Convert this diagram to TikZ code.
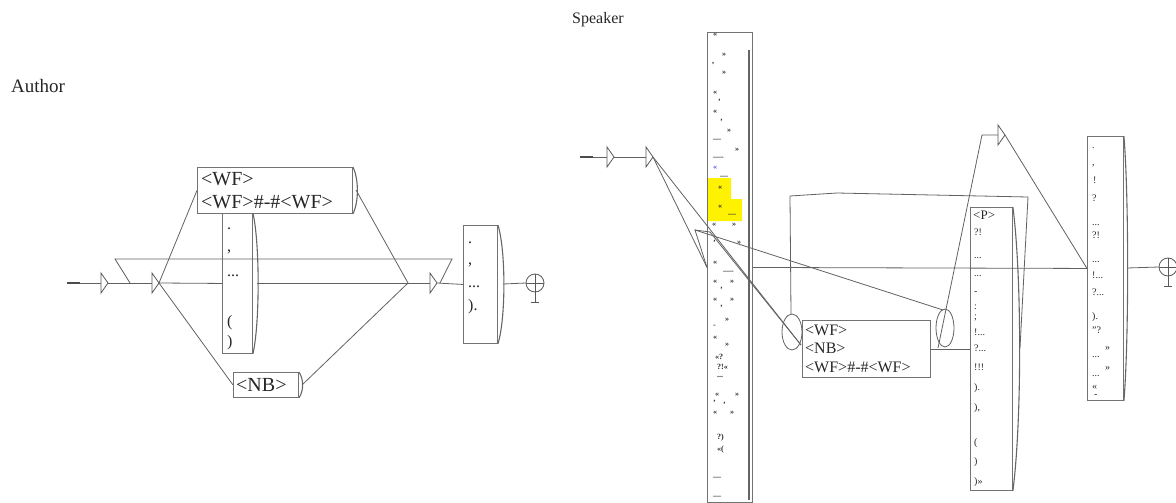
\documentclass[tikz,border=0pt]{standalone}
\usepackage{fontspec}
\setmainfont{Liberation Serif}
\newcommand\ctri[3]{%
  \draw[draw=black!65,line width=0.8pt] (#2-1,#3-10) -- (#2+6,#3) -- (#2-1,#3+10) -- cycle;
  \coordinate (#1in) at (#2-1,#3);
  \coordinate (#1out) at (#2+6,#3);}
\newcommand\finst[3]{%
  \draw[draw=black!65,line width=0.8pt] (#2,#3) circle [radius=9pt];
  \draw[draw=black!65,line width=0.8pt] (#2-9,#3) -- (#2+9,#3) (#2,#3-9) -- (#2,#3+19) (#2-4,#3+19) -- (#2+4,#3+19);
  \coordinate (#1) at (#2-9,#3);}
\begin{document}
\begin{tikzpicture}[x=1pt,y=-1pt,
 ln/.style={draw=black!62,line width=0.8pt},
 bx/.style={draw=black!55,line width=0.9pt,inner sep=0pt,anchor=north west},
 brk/.style={draw=black!60,line width=1.1pt},
 tx/.style={text=black!85,inner sep=0pt,anchor=west},
 big/.style={tx,font=\fontsize{20}{20}\selectfont},
 mid/.style={tx,font=\fontsize{16}{16}\selectfont},
 sm/.style={tx,font=\fontsize{10}{10}\selectfont},
 tiny/.style={tx,text=black!85,font=\fontsize{8}{8}\selectfont\bfseries}]
\useasboundingbox (0,0) rectangle (1176,503);

% ---------- labels ----------
\node[tx,font=\fontsize{19}{19}\selectfont] (lauthor) at (11,86) {Author};
\node[tx,font=\fontsize{16}{16}\selectfont] (lspeaker) at (572,20) {Speaker};

% ================= LEFT GRAPH =================
\node[bx,minimum width=155pt,minimum height=46pt] (wfA) at (197,167) {};
\node[big] (wfA1) at (201,179) {<WF>};
\node[big] (wfA2) at (201,202) {<WF>\#-\#<WF>};
\draw[brk] (wfA.north east) .. controls +(6,12) and +(6,-12) .. (wfA.south east);

\node[bx,minimum width=30pt,minimum height=140pt] (puA) at (222,213) {};
\foreach \y/\t [count=\i] in {229/{.},252/{,},276/{...},323/{(},343/{)}}
  \node[mid] (puAt\i) at (227,\y) {\t};
\draw[brk] (puA.north east) .. controls +(7,30) and +(7,-30) .. (puA.south east);

\node[bx,minimum width=65pt,minimum height=25pt] (nbA) at (233,372) {};
\node[big] (nbA1) at (236,385) {<NB>};
\draw[brk] (nbA.north east) .. controls +(5,7) and +(5,-7) .. (nbA.south east);

\node[bx,minimum width=34pt,minimum height=118pt] (puB) at (463,225) {};
\foreach \y/\t [count=\i] in {243/{.},265/{,},287/{...},307/{).}}
  \node[mid] (puBt\i) at (468,\y) {\t};
\draw[brk] (puB.north east) .. controls +(8,25) and +(8,-25) .. (puB.south east);

\coordinate (a0) at (67,283);
\coordinate (a1) at (80,283);
\draw[draw=black!70,line width=2pt] (a0) -- (a1);
\ctri{tA}{102}{283}
\ctri{tB}{153}{283}
\ctri{tC}{431}{283}
\finst{finA}{535}{283}

\coordinate (lp1) at (130,283);
\coordinate (lp2) at (115,259);
\coordinate (lp3) at (452,259);
\coordinate (lp4) at (440,283);
\coordinate (wfAo) at (356,190);
\coordinate (puAo) at (257,283);
\coordinate (nbAo) at (302,385);
\coordinate (puBo) at (503,284);
\coordinate (mA) at (408,283);

\draw[ln] (a1) -- (tAin);
\draw[ln] (tAout) -- (tBin);
\draw[ln] (lp1) -- (lp2) -- (lp3) -- (lp4);
\draw[ln] (tBout) -- (wfA.west);
\draw[ln] (tBout) -- (puA.west);
\draw[ln] (tBout) -- (nbA.west);
\draw[ln] (wfAo) -- (mA);
\draw[ln] (puAo) -- (mA);
\draw[ln] (nbAo) -- (mA);
\draw[ln] (mA) -- (tCin);
\draw[ln] (tCout) -- (puB.west);
\draw[ln] (puBo) -- (finA);

% ================= RIGHT GRAPH =================
\fill[yellow] (708,178) -- (731,178) -- (731,199) -- (742,199) -- (742,221) -- (708,221) -- cycle;
\node[bx,minimum width=45pt,minimum height=470pt] (tall) at (707,32) {};
\draw[brk] (749,50) -- (749,500);
\foreach \x/\y/\t [count=\i] in {713/35/{«},722/55/{»},712/64/{,},722/73/{»},713/93/{«},718/102/{'},713/112/{«},720/122/{'},727/131/{»},713/140/{---},735/150/{»},713/158/{----},720/177/{---},718/188/{«},718/207/{«},728/215/{---},712/225/{«},732/225/{»},713/243/{'},737/243/{»},713/263/{«},723/272/{----},713/282/{«},730/282/{»},720/290/{'},713/300/{«},730/300/{»},720/308/{'},725/320/{»},713/326/{-},713/338/{«},725/345/{»},715/357/{«?},717/367/{?!«},717/377/{...},715/395/{«},735/395/{»},713/403/{'},723/405/{'},713/413/{«},730/413/{»},717/438/{?)},717/450/{«(},713/478/{---},713/497/{---}}
  \node[tiny] (tm\i) at (\x,\y) {\t};
\node[tiny,text=blue!70] (tmblue) at (713,168) {«};

\node[bx,minimum width=128pt,minimum height=57pt] (wfB) at (802,320) {};
\node[mid] (wfB1) at (805,330) {<WF>};
\node[mid] (wfB2) at (805,348) {<NB>};
\node[mid] (wfB3) at (805,367) {<WF>\#-\#<WF>};
\draw[ln] (792,332) ellipse [x radius=10pt, y radius=18pt];
\draw[ln] (945,328) ellipse [x radius=9pt, y radius=19pt];

\node[bx,minimum width=42pt,minimum height=283pt] (pB) at (970,207) {};
\node[tx,font=\fontsize{13}{13}\selectfont] (pB0) at (973,215) {<P>};
\foreach \y/\t [count=\i] in {232/{?!},258/{...},276/{...},293/{-},307/{:},318/{;},332/{!...},348/{?...},367/{!!!},388/{).},408/{),},443/{(},462/{)},482/{)»}}
  \node[sm] (pBt\i) at (974,\y) {\t};
\draw[brk] (pB.north east) .. controls +(9,70) and +(9,-70) .. (pB.south east);

\node[bx,minimum width=36pt,minimum height=264pt] (rB) at (1087,136) {};
\foreach \x/\y/\t [count=\i] in {1092/148/{.},1092/166/{,},1093/180/{!},1092/198/{?},1092/225/{...},1092/235/{?!},1092/262/{...},1092/275/{!...},1092/292/{?...},1092/317/{).},1092/330/{"?},1105/348/{»},1092/357/{...},1105/368/{»},1092/376/{...},1092/387/{«},1094/396/{-}}
  \node[sm] (rBt\i) at (\x,\y) {\t};
\draw[brk] (rB.north east) .. controls +(5,60) and +(5,-60) .. (rB.south east);

% start of right graph
\coordinate (s0) at (580,157);
\coordinate (s1) at (593,157);
\draw[draw=black!70,line width=2pt] (s0) -- (s1);
\ctri{tD}{608}{157}
\ctri{tE}{647}{157}
\ctri{tF}{999}{135}
\finst{finB}{1168}{267}

\coordinate (wfBi) at (801,345);
\coordinate (pg0) at (695,230);
\coordinate (pg1) at (710,232);
\coordinate (wfBr) at (943,310);
\coordinate (wfBo) at (938,348);
\coordinate (up1) at (982,135);
\coordinate (pBo) at (1020,348);
\coordinate (lp5) at (1028,197);
\coordinate (lp6) at (837,193);
\coordinate (lp7) at (790,196);
\coordinate (lp8) at (791,314);
\coordinate (rBo) at (1127,268);

\draw[ln] (s1) -- (tDin);
\draw[ln] (tDout) -- (tEin);
\draw[ln] (tEout) -- (tall.west);
\draw[ln] (tEout) -- (wfBi);
\draw[ln] (pg1) -- (wfBi);
\draw[ln] (wfBr) -- (pg0) -- (tall.west);
\draw[ln] (pg0) -- (pg1);
\draw[ln] (tall.east) -- (rB.west);
\draw[ln] (wfB.east) -- (pB.west);
\draw[ln] (wfBo) -- (up1) -- (tFin);
\draw[ln] (tFout) -- (rB.west);
\draw[ln] (pBo) -- (lp5) -- (lp6) -- (lp7) -- (lp8);
\draw[ln] (rBo) -- (finB);
\end{tikzpicture}
\end{document}
